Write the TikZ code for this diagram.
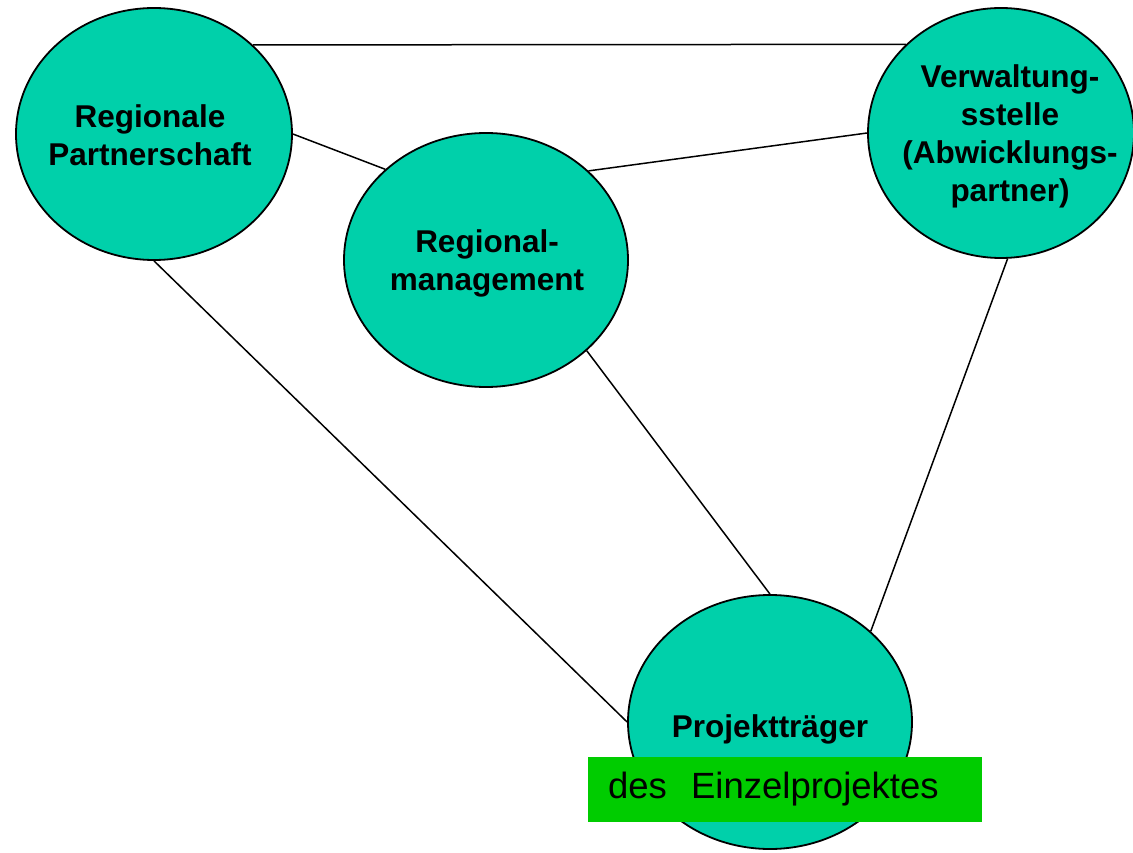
\documentclass[tikz,border=0pt]{standalone}
\usepackage{fontspec}
\setmainfont{Liberation Sans}
\usetikzlibrary{shapes.geometric}
\definecolor{actorteal}{RGB}{0,208,170}
\definecolor{notegreen}{RGB}{0,204,0}

\begin{document}
\begin{tikzpicture}[x=1pt,y=-1pt]
\tikzset{actor/.style={ellipse, draw, line width=1.8pt, fill=actorteal, inner sep=0pt},
	actortext/.style={align=center, inner sep=0pt, font=\bfseries\fontsize{31.5}{38}\selectfont},
	link/.style={line width=1.5pt}}
	\useasboundingbox (0,0) rectangle (1133,853);
	\node[actor, minimum width=276pt, minimum height=252pt] (partner) at (154,134) {};
	\node[actor, minimum width=284pt, minimum height=254pt] (mgmt) at (486,260) {};
	\node[actor, minimum width=266pt, minimum height=250pt] (verwaltung) at (1001,133) {};
	\node[actor, minimum width=284pt, minimum height=254pt] (traeger) at (770,722) {};
	\node[fill=notegreen, inner xsep=20pt, inner ysep=0pt, text width=354pt, minimum height=65pt,
		font=\fontsize{36.5}{43}\selectfont] (einzel) at (785,789.5) {des\ \ Einzelprojektes};
	\node[actortext] (partner-text) at (150,135) {Regionale\\Partnerschaft};
	\node[actortext] (mgmt-text) at (487,263) {Regional-\\management};
	\node[actortext] (verwaltung-text) at (1010,136) {Verwaltung-\\sstelle\\(Abwicklungs-\\partner)};
	\node[actortext] (traeger-text) at (770,729) {Projektträger};
	\draw[link] (partner.42) -- (verwaltung.137);
	\draw[link] (partner.0) -- (mgmt.138);
	\draw[link] (mgmt.41) -- (verwaltung.180);
	\draw[link] (partner.270) -- (traeger.180);
	\draw[link] (mgmt.318) -- (traeger.90);
	\draw[link] (verwaltung.273) -- (traeger.42);
\end{tikzpicture}
\end{document}
